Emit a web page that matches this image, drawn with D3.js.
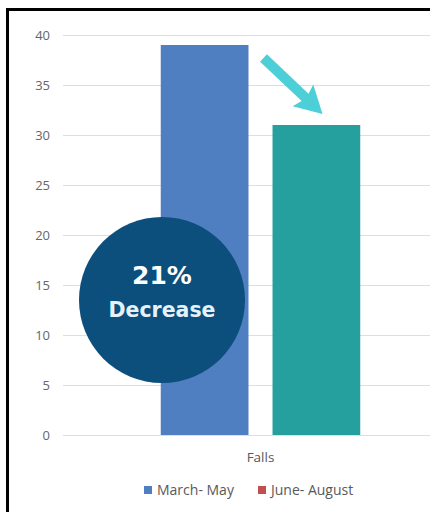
<!DOCTYPE html>
<html>
<head>
<meta charset="utf-8">
<script src="https://cdn.jsdelivr.net/npm/d3@7"></script>
<style>
  body { margin: 0; background: #fff; }
  svg { display: block; }
</style>
</head>
<body>
<div id="container"></div>
<script>
// chart data
const categories = ["Falls"];
const seriesNames = ["March- May", "June- August"];
const marchMay = [39];
const juneAugust = [31];
const yTicks = [0, 5, 10, 15, 20, 25, 30, 35, 40];
const legendColors = ["#4f7fc0", "#c0504d"];
const barColors = ["#4f7fc0", "#26a09f"];
const calloutLines = ["21%", "Decrease"];

const width = 430;
const height = 512;
const marginTop = 35;
const marginBottom = 77;
const marginLeft = 63;

const rows = categories.map((c, i) => ({ cat: c, values: [marchMay[i], juneAugust[i]] }));

const svg = d3.create("svg")
    .attr("width", width)
    .attr("height", height)
    .attr("viewBox", [0, 0, width, height]);

// category scale, runs off the right edge like the cropped original
const x0 = d3.scaleBand()
    .domain(categories)
    .range([marginLeft, 458])
    .paddingOuter(0.49);

const x1 = d3.scaleBand()
    .domain(seriesNames)
    .range([0, x0.bandwidth()])
    .paddingInner(0.215);

const y = d3.scaleLinear()
    .domain([0, 40])
    .range([height - marginBottom, marginTop]);

// gridlines + tick labels
svg.append("g")
    .attr("transform", `translate(${marginLeft},0)`)
    .call(d3.axisLeft(y).tickValues(yTicks).tickSize(-(width - marginLeft)).tickPadding(13))
    .call(g => g.select(".domain").remove())
    .call(g => g.selectAll(".tick line").attr("stroke", "#dedede"))
    .call(g => g.selectAll(".tick text")
        .attr("fill", "#666")
        .attr("font-family", "Open Sans, sans-serif")
        .attr("font-size", 13));

// bars
svg.append("g")
  .selectAll("g")
  .data(rows)
  .join("g")
    .attr("transform", d => `translate(${x0(d.cat)},0)`)
  .selectAll("rect")
  .data(d => d.values.map((v, i) => ({ key: seriesNames[i], value: v, i })))
  .join("rect")
    .attr("x", d => x1(d.key))
    .attr("y", d => y(d.value))
    .attr("width", x1.bandwidth())
    .attr("height", d => y(0) - y(d.value))
    .attr("fill", d => barColors[d.i]);

// category label
svg.append("g")
  .selectAll("text")
  .data(categories)
  .join("text")
    .attr("x", d => x0(d) + x0.bandwidth() / 2)
    .attr("y", y(0) + 27)
    .attr("text-anchor", "middle")
    .attr("fill", "#595959")
    .attr("font-family", "Open Sans, sans-serif")
    .attr("font-size", 13.5)
    .text(d => d);

// arrow from the first bar toward the second
const ax = x0("Falls") + x1(seriesNames[0]) + x1.bandwidth() + 15;
const ay = y(marchMay[0]) + 13;
const tx = x0("Falls") + x1(seriesNames[1]) + x1.bandwidth() * 0.57;
const ty = y(juneAugust[0]) - 11;
const ang = Math.atan2(ty - ay, tx - ax) * 180 / Math.PI;
const len = Math.hypot(tx - ax, ty - ay);
svg.append("path")
    .attr("transform", `translate(${ax},${ay}) rotate(${ang})`)
    .attr("d", `M0,-5 L${len - 24},-5 L${len - 27},-15 L${len},0 L${len - 27},15 L${len - 24},5 L0,5 Z`)
    .attr("fill", "#4ccfd7");

// callout circle
const callout = svg.append("g").attr("transform", "translate(162,300)");
callout.append("circle").attr("r", 83).attr("fill", "#0c4e7c");
callout.append("text")
    .attr("y", -16)
    .attr("text-anchor", "middle")
    .attr("fill", "#ffffff")
    .attr("font-family", "DejaVu Sans, sans-serif")
    .attr("font-weight", "bold")
    .attr("font-size", 25)
    .text(calloutLines[0]);
callout.append("text")
    .attr("y", 17)
    .attr("text-anchor", "middle")
    .attr("fill", "#e6f2fa")
    .attr("font-family", "DejaVu Sans, sans-serif")
    .attr("font-weight", "bold")
    .attr("font-size", 20.5)
    .text(calloutLines[1]);

// legend
const legendX = [144, 258];
const legend = svg.append("g")
  .selectAll("g")
  .data(seriesNames)
  .join("g")
    .attr("transform", (d, i) => `translate(${legendX[i]},490)`);
legend.append("rect")
    .attr("y", -4)
    .attr("width", 8)
    .attr("height", 8)
    .attr("fill", (d, i) => legendColors[i]);
legend.append("text")
    .attr("x", 13)
    .attr("dy", "0.35em")
    .attr("fill", "#595959")
    .attr("font-family", "Open Sans, sans-serif")
    .attr("font-size", 14)
    .text(d => d);

// black frame on the left and top
svg.append("path")
    .attr("d", `M7.5,${height} L7.5,9.5 L${width},9.5`)
    .attr("fill", "none")
    .attr("stroke", "#000")
    .attr("stroke-width", 3);

container.append(svg.node());
</script>
</body>
</html>
